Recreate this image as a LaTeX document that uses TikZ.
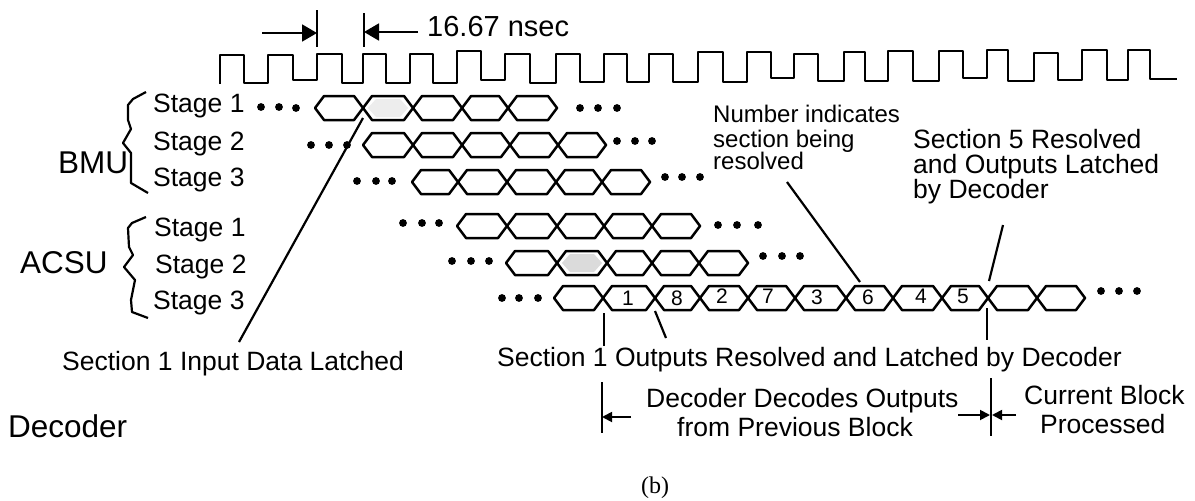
\documentclass[tikz,border=0pt]{standalone}
\usepackage{fontspec}
\setmainfont{Liberation Sans}
\newfontfamily\capfont{Liberation Serif}
\usetikzlibrary{arrows.meta}
\newcommand{\busrow}[2]{\foreach \a/\b in {#2}{\draw[buswire] (\a,#1) -- (\a+9,#1-12) -- (\b-9,#1-12) -- (\b,#1) -- (\b-9,#1+12) -- (\a+9,#1+12) -- cycle;}}
\newcommand{\dotrow}[2]{\foreach \a/\b in {#2}{\fill[black] (\a,\b) circle (3.9);}\ignorespaces}
\tikzset{
  lab/.style={inner sep=0pt,anchor=base west,font=\fontsize{26.5}{30}\selectfont},
  labsmall/.style={lab,font=\fontsize{24}{28}\selectfont},
  labbig/.style={lab,font=\fontsize{31.5}{35}\selectfont},
  digit/.style={inner sep=0pt,anchor=base,font=\fontsize{21}{25}\selectfont},
  buswire/.style={line width=2.5pt,line join=round,black},
  wire/.style={line width=2.3pt,line join=round,black},
  leader/.style={line width=2.2pt,black},
  brace/.style={line width=2.2pt,line join=round,black},
  dimbig/.style={line width=1.8pt,-{Triangle[length=15pt,width=17pt]},black},
  dimsmall/.style={line width=1.8pt,-{Triangle[length=10pt,width=10pt]},black},
  tick/.style={line width=2pt,black},
}
\begin{document}
\begin{tikzpicture}[x=1pt,y=-1pt]
\path[use as bounding box,fill=white] (0,0) rectangle (1195,501);

% clock
\draw[wire] (220,84) -- (220,55) -- (244,55) -- (244,83) -- (268,83) -- (268,55) -- (293,55) -- (293,80) -- (317,80)
 -- (317,54) -- (342,54) -- (342,83) -- (363,83) -- (363,54) -- (386,54) -- (386,83) -- (410,83) -- (410,54) -- (433,54)
 -- (433,83) -- (457,83) -- (457,51) -- (481,51) -- (481,80) -- (505,80) -- (505,54) -- (530,54) -- (530,83) -- (556,83)
 -- (556,54) -- (580,54) -- (580,82) -- (604,82) -- (604,54) -- (627,54) -- (627,82) -- (649,82) -- (649,54) -- (673,54)
 -- (673,82) -- (698,82) -- (698,52) -- (723,52) -- (723,82) -- (747,82) -- (747,52) -- (771,52) -- (771,78) -- (794,78)
 -- (794,54) -- (818,54) -- (818,81) -- (844,81) -- (844,52) -- (865,52) -- (865,81) -- (888,81) -- (888,51) -- (913,51)
 -- (913,81) -- (939,81) -- (939,51) -- (963,51) -- (963,78) -- (987,78) -- (987,50) -- (1008,50) -- (1008,81) -- (1034,81)
 -- (1034,53) -- (1058,53) -- (1058,80) -- (1082,80) -- (1082,50) -- (1107,50) -- (1107,80) -- (1128,80) -- (1128,50)
 -- (1150,50) -- (1150,79) -- (1177,79);

% period dimension
\coordinate (pa1) at (317,10); \coordinate (pa2) at (317,47);
\coordinate (pb1) at (364,13); \coordinate (pb2) at (364,47);
\coordinate (pat) at (317,33); \coordinate (pbt) at (364,32);
\coordinate (pas) at (262,33); \coordinate (pbs) at (418,32);
\draw[tick] (pa1) -- (pa2);
\draw[tick] (pb1) -- (pb2);
\draw[dimbig] (pas) -- (pat);
\draw[dimbig] (pbs) -- (pbt);
\node[lab,font=\fontsize{29}{33}\selectfont] (period) at (427,36) {16.67 nsec};

% shaded slots
\fill[black!7] (368,108) -- (376,99) -- (400,99) -- (408,108) -- (400,117) -- (376,117) -- cycle;
\fill[black!14] (562,263) -- (570,254) -- (594,254) -- (602,263) -- (594,272) -- (570,272) -- cycle;

% bus rows
\busrow{108}{315/363,363/413,413/462,462/508,508/557}
\busrow{145}{363/413,413/462,462/510,510/558,558/606}
\busrow{182}{412/458,458/507,507/556,556/602,602/650}
\busrow{226}{457/507,507/557,557/604,604/652,652/700}
\busrow{263}{506/557,557/607,607/652,652/699,699/748}
\busrow{298}{554/603,603/655,655/700,700/748,748/795,795/846,846/893,893/942,942/988,988/1037,1037/1085}

% ellipsis dots
\dotrow{}{261/107,279/107,296/108,580/108,598/108,617/108}
\dotrow{}{311/145,329/145,347/145,617/141,635/141,652/141}
\dotrow{}{357/181,376/181,392/181,665/177,682/177,700/177}
\dotrow{}{403/223,422/223,439/223,718/225,737/225,758/225}
\dotrow{}{452/261,471/261,489/261,763/256,782/256,800/256}
\dotrow{}{502/298,519/298,538/298,1101/291,1119/291,1137/291}

% digits in the last row
\node[digit] (d1) at (628,305) {1};
\node[digit] (d8) at (677,305) {8};
\node[digit] (d2) at (722,303) {2};
\node[digit] (d7) at (768,303) {7};
\node[digit] (d3) at (817,304) {3};
\node[digit] (d6) at (868,304) {6};
\node[digit] (d4) at (921,303) {4};
\node[digit] (d5) at (963,303) {5};

% stage labels
\node[lab] (s1) at (153,112) {Stage 1};
\node[lab] (s2) at (153,150) {Stage 2};
\node[lab] (s3) at (153,186) {Stage 3};
\node[lab] (s4) at (154,236) {Stage 1};
\node[lab] (s5) at (155,273) {Stage 2};
\node[lab] (s6) at (153,309) {Stage 3};
\node[labbig] (bmu) at (58,173) {BMU};
\node[labbig] (acsu) at (20,273) {ACSU};
\node[labbig] (dec) at (8,437) {Decoder};

% braces
\draw[brace] (146,92) -- (133,99) -- (128,105) -- (128,120) -- (131,129) -- (123,143) -- (131,153) -- (131,183) -- (148,193);
\draw[brace] (146,217) -- (132,223) -- (128,228) -- (129,247) -- (133,255) -- (124,267) -- (135,280) -- (131,300) -- (132,312) -- (148,318);

% annotation text
\node[labsmall] (n1) at (713,122) {Number indicates};
\node[labsmall] (n2) at (713,147) {section being};
\node[labsmall] (n3) at (713,169) {resolved};
\node[lab] (r1) at (913,148) {Section 5 Resolved};
\node[lab] (r2) at (913,173) {and Outputs Latched};
\node[lab] (r3) at (913,198) {by Decoder};
\node[lab] (inp) at (62,370) {Section 1 Input Data Latched};
\node[lab,anchor=base east] (out) at (1122,366) {Section 1 Outputs Resolved and Latched by Decoder};
\node[lab] (b1) at (646,407) {Decoder Decodes Outputs};
\node[lab] (b2) at (677,436) {from Previous Block};
\node[lab] (c1) at (1024,404) {Current Block};
\node[lab] (c2) at (1040,433) {Processed};
\node[inner sep=0pt,anchor=base,font=\capfont\fontsize{24}{28}\selectfont] (cap) at (655,493) {(b)};

% leaders
\coordinate (l1a) at (363,118); \coordinate (l1b) at (239,342);
\draw[leader] (l1a) -- (l1b);
\coordinate (l2a) at (787,182); \coordinate (l2b) at (860,282);
\draw[leader] (l2a) -- (l2b);
\coordinate (l3a) at (1003,225); \coordinate (l3b) at (989,281);
\draw[leader] (l3a) -- (l3b);
\coordinate (l4a) at (655,311); \coordinate (l4b) at (666,338);
\draw[leader] (l4a) -- (l4b);

% block ticks
\coordinate (t1a) at (604,313); \coordinate (t1b) at (604,346);
\draw[tick] (t1a) -- (t1b);
\coordinate (t2a) at (987,308); \coordinate (t2b) at (987,340);
\draw[tick] (t2a) -- (t2b);
\coordinate (t3a) at (602,382); \coordinate (t3b) at (602,433);
\draw[tick] (t3a) -- (t3b);
\coordinate (t4a) at (991,378); \coordinate (t4b) at (991,436);
\draw[tick] (t4a) -- (t4b);
\coordinate (a1t) at (602,417); \coordinate (a1s) at (631,417);
\draw[dimsmall] (a1s) -- (a1t);
\coordinate (a2t) at (990,415); \coordinate (a2s) at (958,415);
\draw[dimsmall] (a2s) -- (a2t);
\coordinate (a3t) at (992,415); \coordinate (a3s) at (1016,415);
\draw[dimsmall] (a3s) -- (a3t);
\end{tikzpicture}
\end{document}
